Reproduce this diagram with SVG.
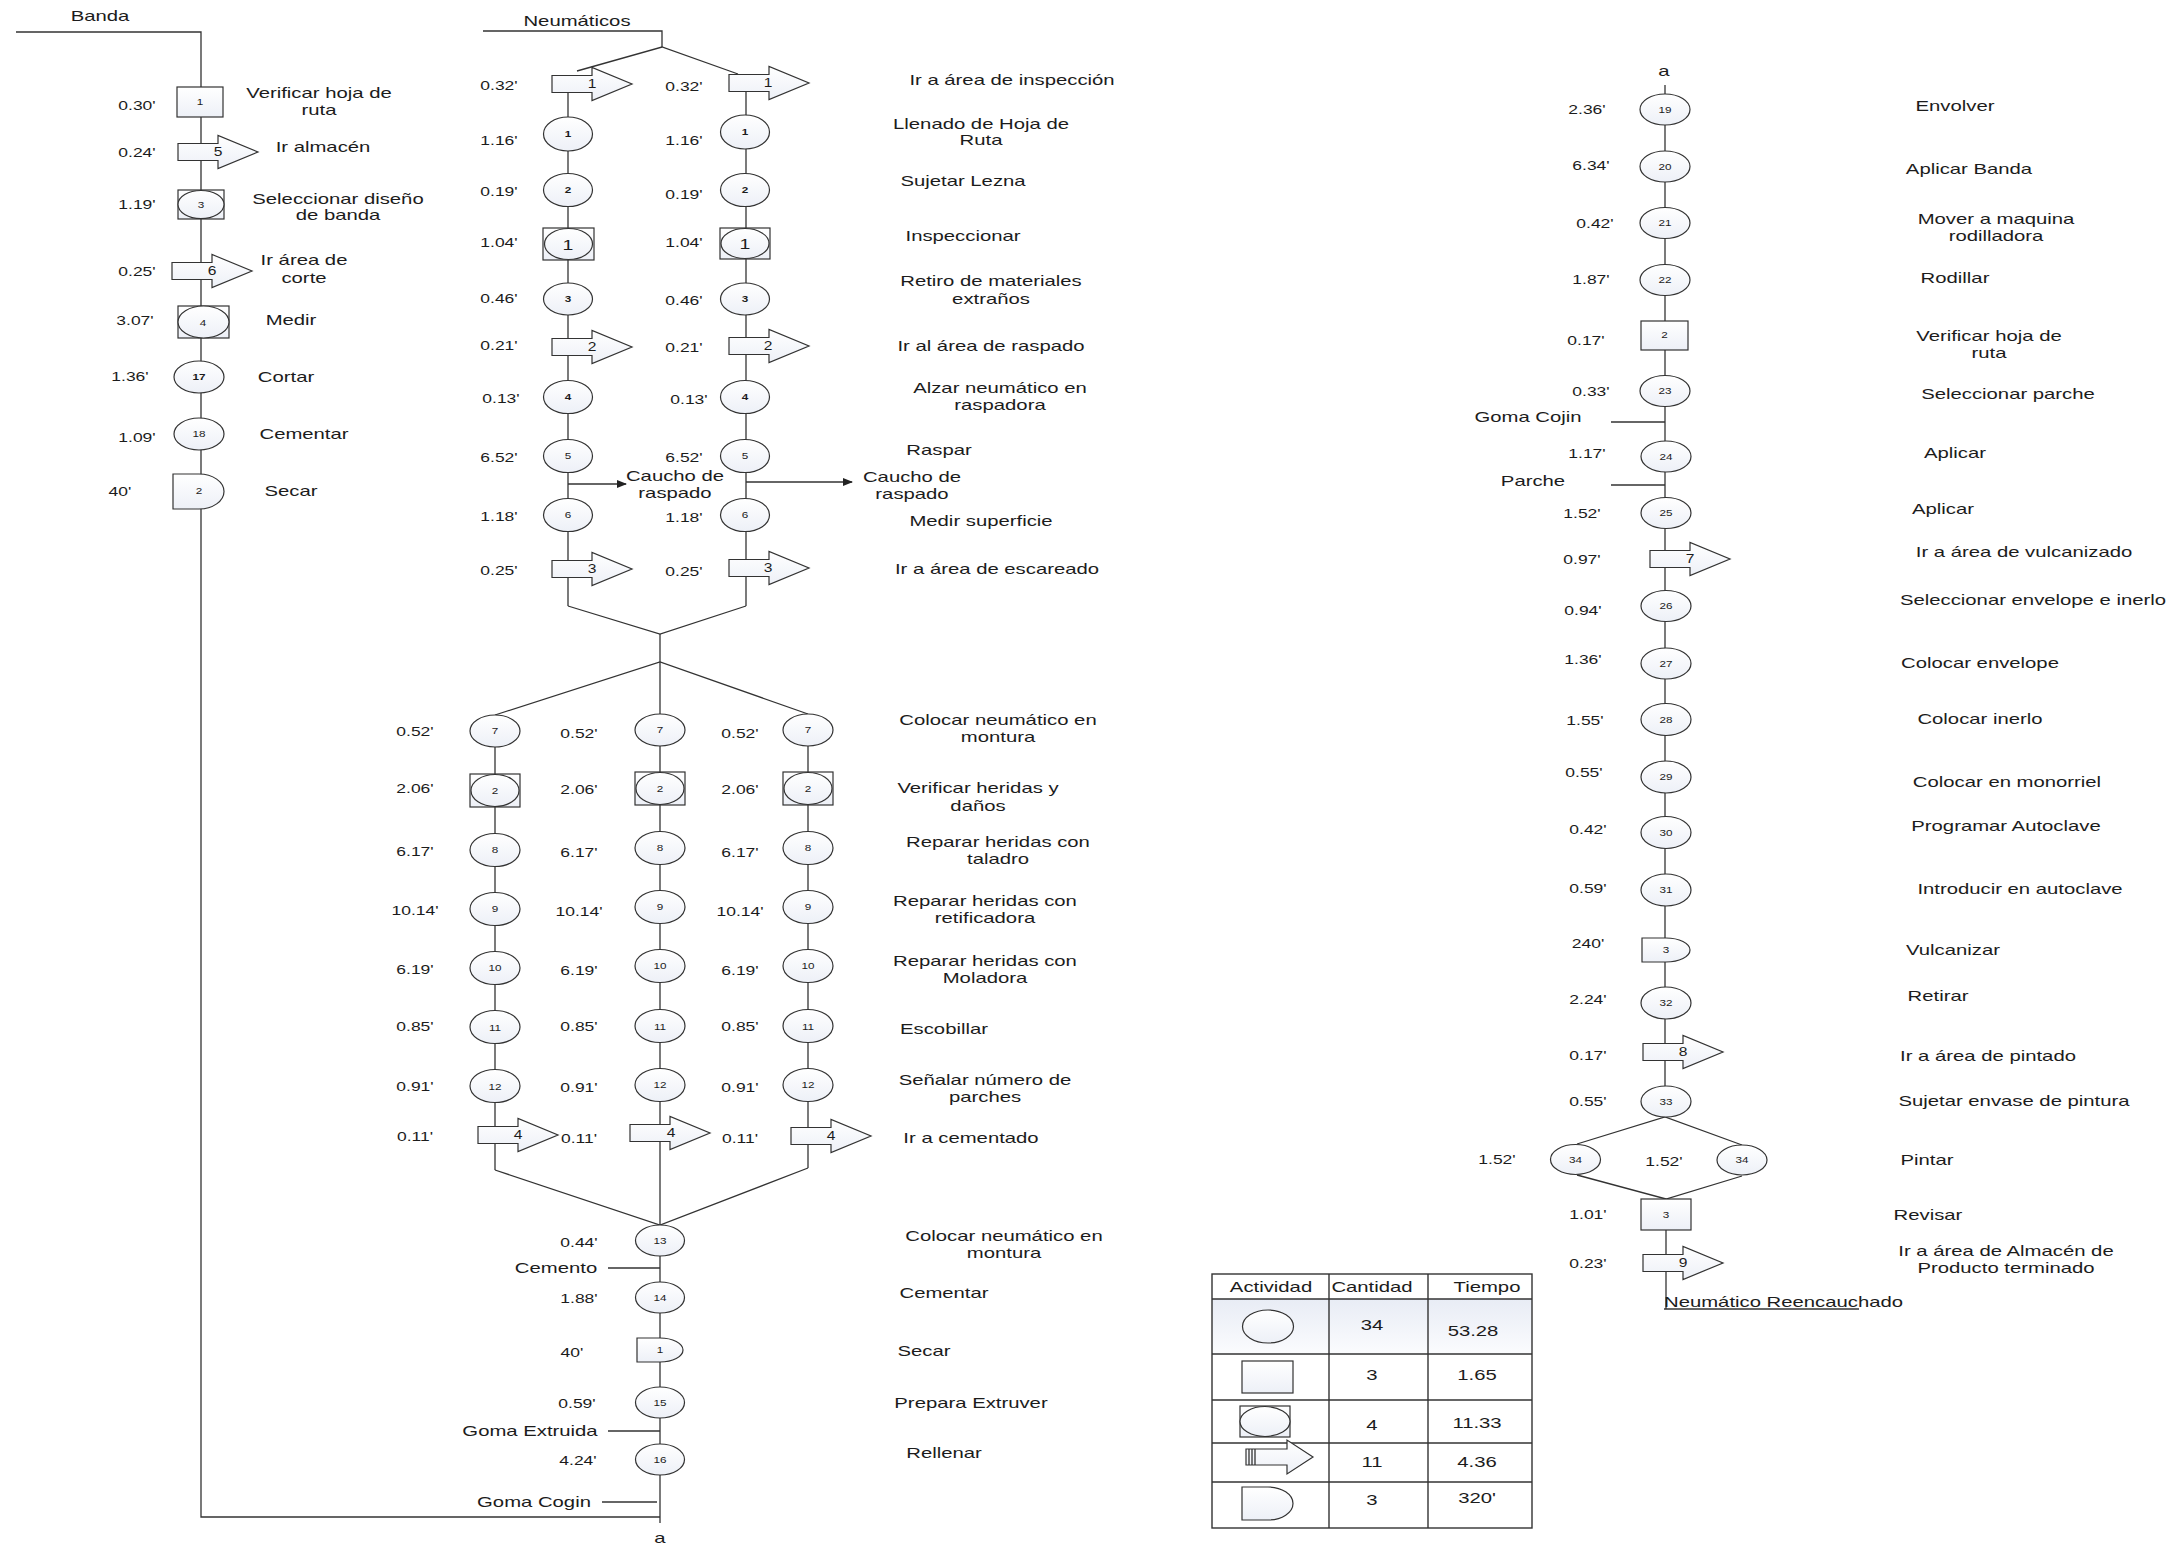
<svg xmlns="http://www.w3.org/2000/svg" width="2174" height="1544" viewBox="0 0 2174 1544">
<defs>
<linearGradient id="g" x1="0" y1="0" x2="0" y2="1"><stop offset="0" stop-color="#ffffff"/><stop offset="1" stop-color="#edf0f7"/></linearGradient>
<linearGradient id="rowg" x1="0" y1="0" x2="0" y2="1"><stop offset="0" stop-color="#e8ecf5"/><stop offset="1" stop-color="#fbfcfe"/></linearGradient>
<path id="ar" d="M0,-8.5H40V-16.5L80,0L40,16.5V8.5H0Z"/>
<marker id="mk" markerWidth="10" markerHeight="8" refX="9" refY="4" orient="auto" markerUnits="userSpaceOnUse"><path d="M0,0L10,4L0,8Z" fill="#222"/></marker>
<style>
.ln{stroke:#333;stroke-width:1.3;fill:none}
.nd{fill:url(#g);stroke:#333;stroke-width:1.2}
text{font-family:"Liberation Sans",Arial,sans-serif;fill:#1c1c1c;text-anchor:middle;dominant-baseline:central}
.lb{font-size:14.5px}
.tm{font-size:12.5px}
.nm{font-size:9px}
.an{font-size:12px}
.tb{stroke:#333;stroke-width:1.4;fill:none}
</style>
</defs>
<rect width="2174" height="1544" fill="#fff"/>

<g id="connectors" class="ln">
<polyline points="16,32 201,32 201,1517 660,1517"/>
<polyline points="483,31 662,31 662,47"/>
<polyline points="577,71 662,47 738,74"/>
<line x1="568" y1="84" x2="568" y2="606"/>
<line x1="746" y1="83" x2="746" y2="606"/>
<polyline points="568,606 660,634 746,606"/>
<line x1="660" y1="634" x2="660" y2="662"/>
<polyline points="495,715 660,662 808,714"/>
<line x1="660" y1="662" x2="660" y2="1523"/>
<line x1="495" y1="715" x2="495" y2="1170"/>
<line x1="808" y1="714" x2="808" y2="1168"/>
<polyline points="495,1170 660,1225 808,1168"/>
<line x1="568" y1="484" x2="626" y2="484" marker-end="url(#mk)"/>
<line x1="746" y1="482" x2="852" y2="482" marker-end="url(#mk)"/>
<line x1="608" y1="1268" x2="660" y2="1268"/>
<line x1="608" y1="1431" x2="660" y2="1431"/>
<line x1="602" y1="1502" x2="657" y2="1502"/>
<line x1="1665" y1="85" x2="1665" y2="1117"/>
<polyline points="1577,1144 1665,1117 1742,1145"/>
<polyline points="1577,1175 1666,1199 1742,1176"/>
<line x1="1666" y1="1199" x2="1666" y2="1309"/>
<line x1="1664" y1="1309" x2="1859" y2="1309"/>
<line x1="1611" y1="422" x2="1665" y2="422"/>
<line x1="1611" y1="485" x2="1665" y2="485"/>
</g>

<g id="headers">
<text class="lb" transform="matrix(1.4 0 0 1 100 16)">Banda</text>
<text class="lb" transform="matrix(1.4 0 0 1 577 21)">Neumáticos</text>
<text class="lb" transform="matrix(1.4 0 0 1 660 1538)">a</text>
<text class="lb" transform="matrix(1.4 0 0 1 1664 71)">a</text>
<text class="lb" style="text-anchor:start" transform="matrix(1.4 0 0 1 1664 1302)">Neumático Reencauchado</text>
<text class="lb" transform="matrix(1.4 0 0 1 675 476)"><tspan x="0">Caucho de</tspan><tspan x="0" dy="17">raspado</tspan></text>
<text class="lb" transform="matrix(1.4 0 0 1 912 477)"><tspan x="0">Caucho de</tspan><tspan x="0" dy="17">raspado</tspan></text>
<text class="lb" transform="matrix(1.4 0 0 1 556 1268)">Cemento</text>
<text class="lb" transform="matrix(1.4 0 0 1 530 1431)">Goma Extruida</text>
<text class="lb" transform="matrix(1.4 0 0 1 534 1502)">Goma Cogin</text>
<text class="lb" transform="matrix(1.4 0 0 1 1528 417)">Goma Cojin</text>
<text class="lb" transform="matrix(1.4 0 0 1 1533 481)">Parche</text>
</g>

<!-- Banda column -->
<g id="b1"><rect class="nd" x="177" y="87" width="46" height="30"/><text class="nm" transform="matrix(1.3 0 0 1 200 102)">1</text>
<text class="tm" transform="matrix(1.4 0 0 1 137 105)">0.30'</text>
<text class="lb" transform="matrix(1.4 0 0 1 319 93)"><tspan x="0">Verificar hoja de</tspan><tspan x="0" dy="17">ruta</tspan></text></g>
<g id="b5"><use href="#ar" class="nd" x="178" y="152"/><text class="an" transform="matrix(1.3 0 0 1 218 152)">5</text>
<text class="tm" transform="matrix(1.4 0 0 1 137 152)">0.24'</text>
<text class="lb" transform="matrix(1.4 0 0 1 323 147)">Ir almacén</text></g>
<g id="b3"><rect class="nd" x="178" y="190" width="46" height="29"/><ellipse class="nd" cx="201" cy="204.5" rx="23" ry="14"/><text class="nm" transform="matrix(1.3 0 0 1 201 205)">3</text>
<text class="tm" transform="matrix(1.4 0 0 1 137 204)">1.19'</text>
<text class="lb" transform="matrix(1.4 0 0 1 338 199)"><tspan x="0">Seleccionar diseño</tspan><tspan x="0" dy="16">de banda</tspan></text></g>
<g id="b6"><use href="#ar" class="nd" x="172" y="271"/><text class="an" transform="matrix(1.3 0 0 1 212 271)">6</text>
<text class="tm" transform="matrix(1.4 0 0 1 137 271)">0.25'</text>
<text class="lb" transform="matrix(1.4 0 0 1 304 260)"><tspan x="0">Ir área de</tspan><tspan x="0" dy="18">corte</tspan></text></g>
<g id="b4"><rect class="nd" x="178" y="306" width="51" height="32"/><ellipse class="nd" cx="203.5" cy="322" rx="25.5" ry="16"/><text class="nm" transform="matrix(1.3 0 0 1 203 323)">4</text>
<text class="tm" transform="matrix(1.4 0 0 1 135 320)">3.07'</text>
<text class="lb" transform="matrix(1.4 0 0 1 291 320)">Medir</text></g>
<g id="b17"><ellipse class="nd" cx="199" cy="377" rx="25" ry="16"/><text class="nm" style="font-weight:bold" transform="matrix(1.3 0 0 1 199 377)">17</text>
<text class="tm" transform="matrix(1.4 0 0 1 130 376)">1.36'</text>
<text class="lb" transform="matrix(1.4 0 0 1 286 377)">Cortar</text></g>
<g id="b18"><ellipse class="nd" cx="199" cy="434" rx="25" ry="16"/><text class="nm" transform="matrix(1.3 0 0 1 199 434)">18</text>
<text class="tm" transform="matrix(1.4 0 0 1 137 437)">1.09'</text>
<text class="lb" transform="matrix(1.4 0 0 1 304 434)">Cementar</text></g>
<g id="b2"><path class="nd" d="M173,474H199A25,17.5 0 0 1 199,509H173Z"/><text class="nm" transform="matrix(1.3 0 0 1 199 491)">2</text>
<text class="tm" transform="matrix(1.4 0 0 1 120 491)">40'</text>
<text class="lb" transform="matrix(1.4 0 0 1 291 491)">Secar</text></g>

<!-- middle top, two columns -->
<g id="m-a1">
<use href="#ar" class="nd" x="552" y="84"/><text class="an" transform="matrix(1.3 0 0 1 592 84)">1</text>
<use href="#ar" class="nd" x="729" y="83"/><text class="an" transform="matrix(1.3 0 0 1 768 83)">1</text>
<text class="tm" transform="matrix(1.4 0 0 1 499 85)">0.32'</text><text class="tm" transform="matrix(1.4 0 0 1 684 86)">0.32'</text>
<text class="lb" transform="matrix(1.4 0 0 1 1012 80)">Ir a área de inspección</text></g>
<g id="m-c1">
<ellipse class="nd" cx="568" cy="134" rx="24.5" ry="17"/><text class="nm" style="font-weight:bold" transform="matrix(1.3 0 0 1 568 134)">1</text>
<ellipse class="nd" cx="745" cy="132" rx="24.5" ry="17"/><text class="nm" style="font-weight:bold" transform="matrix(1.3 0 0 1 745 132)">1</text>
<text class="tm" transform="matrix(1.4 0 0 1 499 140)">1.16'</text><text class="tm" transform="matrix(1.4 0 0 1 684 140)">1.16'</text>
<text class="lb" transform="matrix(1.4 0 0 1 981 124)"><tspan x="0">Llenado de Hoja de</tspan><tspan x="0" dy="16">Ruta</tspan></text></g>
<g id="m-c2">
<ellipse class="nd" cx="568" cy="190" rx="24.5" ry="16.5"/><text class="nm" style="font-weight:bold" transform="matrix(1.3 0 0 1 568 190)">2</text>
<ellipse class="nd" cx="745" cy="190" rx="24.5" ry="16.5"/><text class="nm" style="font-weight:bold" transform="matrix(1.3 0 0 1 745 190)">2</text>
<text class="tm" transform="matrix(1.4 0 0 1 499 191)">0.19'</text><text class="tm" transform="matrix(1.4 0 0 1 684 194)">0.19'</text>
<text class="lb" transform="matrix(1.4 0 0 1 963 181)">Sujetar Lezna</text></g>
<g id="m-i1">
<rect class="nd" x="543" y="228" width="51" height="32"/><ellipse class="nd" cx="568.5" cy="244" rx="24" ry="15.5"/><text style="font-size:15px" transform="matrix(1.3 0 0 1 568 245)">1</text>
<rect class="nd" x="720" y="228" width="50" height="31"/><ellipse class="nd" cx="745" cy="243.5" rx="24" ry="15"/><text style="font-size:15px" transform="matrix(1.3 0 0 1 745 244)">1</text>
<text class="tm" transform="matrix(1.4 0 0 1 499 242)">1.04'</text><text class="tm" transform="matrix(1.4 0 0 1 684 242)">1.04'</text>
<text class="lb" transform="matrix(1.4 0 0 1 963 236)">Inspeccionar</text></g>
<g id="m-c3">
<ellipse class="nd" cx="568" cy="299" rx="24.5" ry="16"/><text class="nm" style="font-weight:bold" transform="matrix(1.3 0 0 1 568 299)">3</text>
<ellipse class="nd" cx="745" cy="299" rx="24.5" ry="16"/><text class="nm" style="font-weight:bold" transform="matrix(1.3 0 0 1 745 299)">3</text>
<text class="tm" transform="matrix(1.4 0 0 1 499 298)">0.46'</text><text class="tm" transform="matrix(1.4 0 0 1 684 300)">0.46'</text>
<text class="lb" transform="matrix(1.4 0 0 1 991 281)"><tspan x="0">Retiro de materiales</tspan><tspan x="0" dy="18">extraños</tspan></text></g>
<g id="m-a2">
<use href="#ar" class="nd" x="552" y="347"/><text class="an" transform="matrix(1.3 0 0 1 592 347)">2</text>
<use href="#ar" class="nd" x="729" y="346"/><text class="an" transform="matrix(1.3 0 0 1 768 346)">2</text>
<text class="tm" transform="matrix(1.4 0 0 1 499 345)">0.21'</text><text class="tm" transform="matrix(1.4 0 0 1 684 347)">0.21'</text>
<text class="lb" transform="matrix(1.4 0 0 1 991 346)">Ir al área de raspado</text></g>
<g id="m-c4">
<ellipse class="nd" cx="568" cy="397" rx="24.5" ry="16.5"/><text class="nm" style="font-weight:bold" transform="matrix(1.3 0 0 1 568 397)">4</text>
<ellipse class="nd" cx="745" cy="397" rx="24.5" ry="16.5"/><text class="nm" style="font-weight:bold" transform="matrix(1.3 0 0 1 745 397)">4</text>
<text class="tm" transform="matrix(1.4 0 0 1 501 398)">0.13'</text><text class="tm" transform="matrix(1.4 0 0 1 689 399)">0.13'</text>
<text class="lb" transform="matrix(1.4 0 0 1 1000 388)"><tspan x="0">Alzar neumático en</tspan><tspan x="0" dy="17">raspadora</tspan></text></g>
<g id="m-c5">
<ellipse class="nd" cx="568" cy="456" rx="24.5" ry="16.5"/><text class="nm" transform="matrix(1.3 0 0 1 568 456)">5</text>
<ellipse class="nd" cx="745" cy="456" rx="24.5" ry="16.5"/><text class="nm" transform="matrix(1.3 0 0 1 745 456)">5</text>
<text class="tm" transform="matrix(1.4 0 0 1 499 457)">6.52'</text><text class="tm" transform="matrix(1.4 0 0 1 684 457)">6.52'</text>
<text class="lb" transform="matrix(1.4 0 0 1 939 450)">Raspar</text></g>
<g id="m-c6">
<ellipse class="nd" cx="568" cy="515" rx="24.5" ry="16.5"/><text class="nm" transform="matrix(1.3 0 0 1 568 515)">6</text>
<ellipse class="nd" cx="745" cy="515" rx="24.5" ry="16.5"/><text class="nm" transform="matrix(1.3 0 0 1 745 515)">6</text>
<text class="tm" transform="matrix(1.4 0 0 1 499 516)">1.18'</text><text class="tm" transform="matrix(1.4 0 0 1 684 517)">1.18'</text>
<text class="lb" transform="matrix(1.4 0 0 1 981 521)">Medir superficie</text></g>
<g id="m-a3">
<use href="#ar" class="nd" x="552" y="569"/><text class="an" transform="matrix(1.3 0 0 1 592 569)">3</text>
<use href="#ar" class="nd" x="729" y="568"/><text class="an" transform="matrix(1.3 0 0 1 768 568)">3</text>
<text class="tm" transform="matrix(1.4 0 0 1 499 570)">0.25'</text><text class="tm" transform="matrix(1.4 0 0 1 684 571)">0.25'</text>
<text class="lb" transform="matrix(1.4 0 0 1 997 569)">Ir a área de escareado</text></g>

<!-- middle lower, three columns -->
<g id="m-c7">
<ellipse class="nd" cx="495" cy="731" rx="25" ry="16"/><text class="nm" transform="matrix(1.3 0 0 1 495 731)">7</text>
<ellipse class="nd" cx="660" cy="730" rx="25" ry="16"/><text class="nm" transform="matrix(1.3 0 0 1 660 730)">7</text>
<ellipse class="nd" cx="808" cy="730" rx="25" ry="16"/><text class="nm" transform="matrix(1.3 0 0 1 808 730)">7</text>
<text class="tm" transform="matrix(1.4 0 0 1 415 731)">0.52'</text><text class="tm" transform="matrix(1.4 0 0 1 579 733)">0.52'</text><text class="tm" transform="matrix(1.4 0 0 1 740 733)">0.52'</text>
<text class="lb" transform="matrix(1.4 0 0 1 998 720)"><tspan x="0">Colocar neumático en</tspan><tspan x="0" dy="17">montura</tspan></text></g>
<g id="m-i2">
<rect class="nd" x="470" y="774" width="50" height="33"/><ellipse class="nd" cx="495" cy="790.5" rx="24" ry="16"/><text class="nm" transform="matrix(1.3 0 0 1 495 791)">2</text>
<rect class="nd" x="635" y="772" width="50" height="33"/><ellipse class="nd" cx="660" cy="788.5" rx="24" ry="16"/><text class="nm" transform="matrix(1.3 0 0 1 660 789)">2</text>
<rect class="nd" x="783" y="772" width="50" height="33"/><ellipse class="nd" cx="808" cy="788.5" rx="24" ry="16"/><text class="nm" transform="matrix(1.3 0 0 1 808 789)">2</text>
<text class="tm" transform="matrix(1.4 0 0 1 415 788)">2.06'</text><text class="tm" transform="matrix(1.4 0 0 1 579 789)">2.06'</text><text class="tm" transform="matrix(1.4 0 0 1 740 789)">2.06'</text>
<text class="lb" transform="matrix(1.4 0 0 1 978 788)"><tspan x="0">Verificar heridas y</tspan><tspan x="0" dy="18">daños</tspan></text></g>
<g id="m-c8">
<ellipse class="nd" cx="495" cy="850" rx="25" ry="16.5"/><text class="nm" transform="matrix(1.3 0 0 1 495 850)">8</text>
<ellipse class="nd" cx="660" cy="848" rx="25" ry="16.5"/><text class="nm" transform="matrix(1.3 0 0 1 660 848)">8</text>
<ellipse class="nd" cx="808" cy="848" rx="25" ry="16.5"/><text class="nm" transform="matrix(1.3 0 0 1 808 848)">8</text>
<text class="tm" transform="matrix(1.4 0 0 1 415 851)">6.17'</text><text class="tm" transform="matrix(1.4 0 0 1 579 852)">6.17'</text><text class="tm" transform="matrix(1.4 0 0 1 740 852)">6.17'</text>
<text class="lb" transform="matrix(1.4 0 0 1 998 842)"><tspan x="0">Reparar heridas con</tspan><tspan x="0" dy="17">taladro</tspan></text></g>
<g id="m-c9">
<ellipse class="nd" cx="495" cy="909" rx="25" ry="16.5"/><text class="nm" transform="matrix(1.3 0 0 1 495 909)">9</text>
<ellipse class="nd" cx="660" cy="907" rx="25" ry="16.5"/><text class="nm" transform="matrix(1.3 0 0 1 660 907)">9</text>
<ellipse class="nd" cx="808" cy="907" rx="25" ry="16.5"/><text class="nm" transform="matrix(1.3 0 0 1 808 907)">9</text>
<text class="tm" transform="matrix(1.4 0 0 1 415 910)">10.14'</text><text class="tm" transform="matrix(1.4 0 0 1 579 911)">10.14'</text><text class="tm" transform="matrix(1.4 0 0 1 740 911)">10.14'</text>
<text class="lb" transform="matrix(1.4 0 0 1 985 901)"><tspan x="0">Reparar heridas con</tspan><tspan x="0" dy="17">retificadora</tspan></text></g>
<g id="m-c10">
<ellipse class="nd" cx="495" cy="968" rx="25" ry="16.5"/><text class="nm" transform="matrix(1.3 0 0 1 495 968)">10</text>
<ellipse class="nd" cx="660" cy="966" rx="25" ry="16.5"/><text class="nm" transform="matrix(1.3 0 0 1 660 966)">10</text>
<ellipse class="nd" cx="808" cy="966" rx="25" ry="16.5"/><text class="nm" transform="matrix(1.3 0 0 1 808 966)">10</text>
<text class="tm" transform="matrix(1.4 0 0 1 415 969)">6.19'</text><text class="tm" transform="matrix(1.4 0 0 1 579 970)">6.19'</text><text class="tm" transform="matrix(1.4 0 0 1 740 970)">6.19'</text>
<text class="lb" transform="matrix(1.4 0 0 1 985 961)"><tspan x="0">Reparar heridas con</tspan><tspan x="0" dy="17">Moladora</tspan></text></g>
<g id="m-c11">
<ellipse class="nd" cx="495" cy="1027" rx="25" ry="16.5"/><text class="nm" transform="matrix(1.3 0 0 1 495 1028)">11</text>
<ellipse class="nd" cx="660" cy="1026" rx="25" ry="16.5"/><text class="nm" transform="matrix(1.3 0 0 1 660 1027)">11</text>
<ellipse class="nd" cx="808" cy="1026" rx="25" ry="16.5"/><text class="nm" transform="matrix(1.3 0 0 1 808 1027)">11</text>
<text class="tm" transform="matrix(1.4 0 0 1 415 1026)">0.85'</text><text class="tm" transform="matrix(1.4 0 0 1 579 1026)">0.85'</text><text class="tm" transform="matrix(1.4 0 0 1 740 1026)">0.85'</text>
<text class="lb" transform="matrix(1.4 0 0 1 944 1029)">Escobillar</text></g>
<g id="m-c12">
<ellipse class="nd" cx="495" cy="1086" rx="25" ry="16.5"/><text class="nm" transform="matrix(1.3 0 0 1 495 1087)">12</text>
<ellipse class="nd" cx="660" cy="1085" rx="25" ry="16.5"/><text class="nm" transform="matrix(1.3 0 0 1 660 1085)">12</text>
<ellipse class="nd" cx="808" cy="1085" rx="25" ry="16.5"/><text class="nm" transform="matrix(1.3 0 0 1 808 1085)">12</text>
<text class="tm" transform="matrix(1.4 0 0 1 415 1086)">0.91'</text><text class="tm" transform="matrix(1.4 0 0 1 579 1087)">0.91'</text><text class="tm" transform="matrix(1.4 0 0 1 740 1087)">0.91'</text>
<text class="lb" transform="matrix(1.4 0 0 1 985 1080)"><tspan x="0">Señalar número de</tspan><tspan x="0" dy="17">parches</tspan></text></g>
<g id="m-a4">
<use href="#ar" class="nd" x="478" y="1135"/><text class="an" transform="matrix(1.3 0 0 1 518 1135)">4</text>
<use href="#ar" class="nd" x="630" y="1133"/><text class="an" transform="matrix(1.3 0 0 1 671 1133)">4</text>
<use href="#ar" class="nd" x="791" y="1136"/><text class="an" transform="matrix(1.3 0 0 1 831 1136)">4</text>
<text class="tm" transform="matrix(1.4 0 0 1 415 1136)">0.11'</text><text class="tm" transform="matrix(1.4 0 0 1 579 1138)">0.11'</text><text class="tm" transform="matrix(1.4 0 0 1 740 1138)">0.11'</text>
<text class="lb" transform="matrix(1.4 0 0 1 971 1138)">Ir a cementado</text></g>

<!-- middle bottom -->
<g id="m-c13"><ellipse class="nd" cx="660" cy="1240.5" rx="24.5" ry="15.5"/><text class="nm" transform="matrix(1.3 0 0 1 660 1241)">13</text>
<text class="tm" transform="matrix(1.4 0 0 1 579 1242)">0.44'</text>
<text class="lb" transform="matrix(1.4 0 0 1 1004 1236)"><tspan x="0">Colocar neumático en</tspan><tspan x="0" dy="17">montura</tspan></text></g>
<g id="m-c14"><ellipse class="nd" cx="660" cy="1297.5" rx="24.5" ry="15.5"/><text class="nm" transform="matrix(1.3 0 0 1 660 1298)">14</text>
<text class="tm" transform="matrix(1.4 0 0 1 579 1298)">1.88'</text>
<text class="lb" transform="matrix(1.4 0 0 1 944 1293)">Cementar</text></g>
<g id="m-d1"><path class="nd" d="M637,1338H660A23,12 0 0 1 660,1362H637Z"/><text class="nm" transform="matrix(1.3 0 0 1 660 1350)">1</text>
<text class="tm" transform="matrix(1.4 0 0 1 572 1352)">40'</text>
<text class="lb" transform="matrix(1.4 0 0 1 924 1351)">Secar</text></g>
<g id="m-c15"><ellipse class="nd" cx="660" cy="1402.5" rx="24.5" ry="15.5"/><text class="nm" transform="matrix(1.3 0 0 1 660 1403)">15</text>
<text class="tm" transform="matrix(1.4 0 0 1 577 1403)">0.59'</text>
<text class="lb" transform="matrix(1.4 0 0 1 971 1403)">Prepara Extruver</text></g>
<g id="m-c16"><ellipse class="nd" cx="660" cy="1459.5" rx="24.5" ry="15.5"/><text class="nm" transform="matrix(1.3 0 0 1 660 1460)">16</text>
<text class="tm" transform="matrix(1.4 0 0 1 578 1460)">4.24'</text>
<text class="lb" transform="matrix(1.4 0 0 1 944 1453)">Rellenar</text></g>

<!-- right column -->
<g id="r-c19"><ellipse class="nd" cx="1665" cy="109.5" rx="25" ry="15.5"/><text class="nm" transform="matrix(1.3 0 0 1 1665 110)">19</text>
<text class="tm" transform="matrix(1.4 0 0 1 1587 109)">2.36'</text>
<text class="lb" transform="matrix(1.4 0 0 1 1955 106)">Envolver</text></g>
<g id="r-c20"><ellipse class="nd" cx="1665" cy="166.5" rx="25" ry="15.5"/><text class="nm" transform="matrix(1.3 0 0 1 1665 167)">20</text>
<text class="tm" transform="matrix(1.4 0 0 1 1591 165)">6.34'</text>
<text class="lb" transform="matrix(1.4 0 0 1 1969 169)">Aplicar Banda</text></g>
<g id="r-c21"><ellipse class="nd" cx="1665" cy="223" rx="25" ry="15.5"/><text class="nm" transform="matrix(1.3 0 0 1 1665 223)">21</text>
<text class="tm" transform="matrix(1.4 0 0 1 1595 223)">0.42'</text>
<text class="lb" transform="matrix(1.4 0 0 1 1996 219)"><tspan x="0">Mover a maquina</tspan><tspan x="0" dy="17">rodilladora</tspan></text></g>
<g id="r-c22"><ellipse class="nd" cx="1665" cy="280" rx="25" ry="15.5"/><text class="nm" transform="matrix(1.3 0 0 1 1665 280)">22</text>
<text class="tm" transform="matrix(1.4 0 0 1 1591 279)">1.87'</text>
<text class="lb" transform="matrix(1.4 0 0 1 1955 278)">Rodillar</text></g>
<g id="r-s2"><rect class="nd" x="1641" y="321" width="47" height="29"/><text class="nm" transform="matrix(1.3 0 0 1 1664.5 335)">2</text>
<text class="tm" transform="matrix(1.4 0 0 1 1586 340)">0.17'</text>
<text class="lb" transform="matrix(1.4 0 0 1 1989 336)"><tspan x="0">Verificar hoja de</tspan><tspan x="0" dy="17">ruta</tspan></text></g>
<g id="r-c23"><ellipse class="nd" cx="1665" cy="391" rx="25" ry="15.5"/><text class="nm" transform="matrix(1.3 0 0 1 1665 391)">23</text>
<text class="tm" transform="matrix(1.4 0 0 1 1591 391)">0.33'</text>
<text class="lb" transform="matrix(1.4 0 0 1 2008 394)">Seleccionar parche</text></g>
<g id="r-c24"><ellipse class="nd" cx="1666" cy="456.5" rx="25" ry="15.5"/><text class="nm" transform="matrix(1.3 0 0 1 1666 457)">24</text>
<text class="tm" transform="matrix(1.4 0 0 1 1587 453)">1.17'</text>
<text class="lb" transform="matrix(1.4 0 0 1 1955 453)">Aplicar</text></g>
<g id="r-c25"><ellipse class="nd" cx="1666" cy="513" rx="25" ry="15.5"/><text class="nm" transform="matrix(1.3 0 0 1 1666 513)">25</text>
<text class="tm" transform="matrix(1.4 0 0 1 1582 513)">1.52'</text>
<text class="lb" transform="matrix(1.4 0 0 1 1943 509)">Aplicar</text></g>
<g id="r-a7"><use href="#ar" class="nd" x="1650" y="559"/><text class="an" transform="matrix(1.3 0 0 1 1690 559)">7</text>
<text class="tm" transform="matrix(1.4 0 0 1 1582 559)">0.97'</text>
<text class="lb" transform="matrix(1.4 0 0 1 2024 552)">Ir a área de vulcanizado</text></g>
<g id="r-c26"><ellipse class="nd" cx="1666" cy="606" rx="25" ry="15.5"/><text class="nm" transform="matrix(1.3 0 0 1 1666 606)">26</text>
<text class="tm" transform="matrix(1.4 0 0 1 1583 610)">0.94'</text>
<text class="lb" transform="matrix(1.4 0 0 1 2033 600)">Seleccionar envelope e inerlo</text></g>
<g id="r-c27"><ellipse class="nd" cx="1666" cy="663.5" rx="25" ry="15.5"/><text class="nm" transform="matrix(1.3 0 0 1 1666 664)">27</text>
<text class="tm" transform="matrix(1.4 0 0 1 1583 659)">1.36'</text>
<text class="lb" transform="matrix(1.4 0 0 1 1980 663)">Colocar envelope</text></g>
<g id="r-c28"><ellipse class="nd" cx="1666" cy="719.5" rx="25" ry="16"/><text class="nm" transform="matrix(1.3 0 0 1 1666 720)">28</text>
<text class="tm" transform="matrix(1.4 0 0 1 1585 720)">1.55'</text>
<text class="lb" transform="matrix(1.4 0 0 1 1980 719)">Colocar inerlo</text></g>
<g id="r-c29"><ellipse class="nd" cx="1666" cy="777" rx="25" ry="16"/><text class="nm" transform="matrix(1.3 0 0 1 1666 777)">29</text>
<text class="tm" transform="matrix(1.4 0 0 1 1584 772)">0.55'</text>
<text class="lb" transform="matrix(1.4 0 0 1 2007 782)">Colocar en monorriel</text></g>
<g id="r-c30"><ellipse class="nd" cx="1666" cy="832.5" rx="25" ry="16"/><text class="nm" transform="matrix(1.3 0 0 1 1666 833)">30</text>
<text class="tm" transform="matrix(1.4 0 0 1 1588 829)">0.42'</text>
<text class="lb" transform="matrix(1.4 0 0 1 2006 826)">Programar Autoclave</text></g>
<g id="r-c31"><ellipse class="nd" cx="1666" cy="890" rx="25" ry="16"/><text class="nm" transform="matrix(1.3 0 0 1 1666 890)">31</text>
<text class="tm" transform="matrix(1.4 0 0 1 1588 888)">0.59'</text>
<text class="lb" transform="matrix(1.4 0 0 1 2020 889)">Introducir en autoclave</text></g>
<g id="r-d3"><path class="nd" d="M1642,938H1666A24,12 0 0 1 1666,962H1642Z"/><text class="nm" transform="matrix(1.3 0 0 1 1666 950)">3</text>
<text class="tm" transform="matrix(1.4 0 0 1 1588 943)">240'</text>
<text class="lb" transform="matrix(1.4 0 0 1 1953 950)">Vulcanizar</text></g>
<g id="r-c32"><ellipse class="nd" cx="1666" cy="1003" rx="25" ry="16"/><text class="nm" transform="matrix(1.3 0 0 1 1666 1003)">32</text>
<text class="tm" transform="matrix(1.4 0 0 1 1588 999)">2.24'</text>
<text class="lb" transform="matrix(1.4 0 0 1 1938 996)">Retirar</text></g>
<g id="r-a8"><use href="#ar" class="nd" x="1643" y="1052"/><text class="an" transform="matrix(1.3 0 0 1 1683 1052)">8</text>
<text class="tm" transform="matrix(1.4 0 0 1 1588 1055)">0.17'</text>
<text class="lb" transform="matrix(1.4 0 0 1 1988 1056)">Ir a área de pintado</text></g>
<g id="r-c33"><ellipse class="nd" cx="1666" cy="1101.5" rx="25" ry="15.5"/><text class="nm" transform="matrix(1.3 0 0 1 1666 1102)">33</text>
<text class="tm" transform="matrix(1.4 0 0 1 1588 1101)">0.55'</text>
<text class="lb" transform="matrix(1.4 0 0 1 2014 1101)">Sujetar envase de pintura</text></g>
<g id="r-c34">
<ellipse class="nd" cx="1575.5" cy="1159.5" rx="25" ry="15"/><text class="nm" transform="matrix(1.3 0 0 1 1575.5 1160)">34</text>
<ellipse class="nd" cx="1742" cy="1160" rx="25" ry="15"/><text class="nm" transform="matrix(1.3 0 0 1 1742 1160)">34</text>
<text class="tm" transform="matrix(1.4 0 0 1 1497 1159)">1.52'</text><text class="tm" transform="matrix(1.4 0 0 1 1664 1161)">1.52'</text>
<text class="lb" transform="matrix(1.4 0 0 1 1927 1160)">Pintar</text></g>
<g id="r-s3"><rect class="nd" x="1641" y="1199" width="50" height="31"/><text class="nm" transform="matrix(1.3 0 0 1 1666 1215)">3</text>
<text class="tm" transform="matrix(1.4 0 0 1 1588 1214)">1.01'</text>
<text class="lb" transform="matrix(1.4 0 0 1 1928 1215)">Revisar</text></g>
<g id="r-a9"><use href="#ar" class="nd" x="1643" y="1263"/><text class="an" transform="matrix(1.3 0 0 1 1683 1263)">9</text>
<text class="tm" transform="matrix(1.4 0 0 1 1588 1263)">0.23'</text>
<text class="lb" transform="matrix(1.4 0 0 1 2006 1251)"><tspan x="0">Ir a área de Almacén de</tspan><tspan x="0" dy="17">Producto terminado</tspan></text></g>

<!-- summary table -->
<g id="table">
<rect x="1212" y="1299" width="320" height="55" fill="url(#rowg)"/>
<rect class="tb" x="1212" y="1274" width="320" height="254"/>
<line class="tb" x1="1329" y1="1274" x2="1329" y2="1528"/>
<line class="tb" x1="1428" y1="1274" x2="1428" y2="1528"/>
<line class="tb" x1="1212" y1="1299" x2="1532" y2="1299"/>
<line class="tb" x1="1212" y1="1354" x2="1532" y2="1354"/>
<line class="tb" x1="1212" y1="1400" x2="1532" y2="1400"/>
<line class="tb" x1="1212" y1="1443" x2="1532" y2="1443"/>
<line class="tb" x1="1212" y1="1482" x2="1532" y2="1482"/>
<text class="lb" transform="matrix(1.4 0 0 1 1271 1287)">Actividad</text>
<text class="lb" transform="matrix(1.4 0 0 1 1372 1287)">Cantidad</text>
<text class="lb" transform="matrix(1.4 0 0 1 1487 1287)">Tiempo</text>
<ellipse class="nd" cx="1268" cy="1326.5" rx="25.5" ry="16.5"/>
<text class="lb" transform="matrix(1.4 0 0 1 1372 1325)">34</text>
<text class="lb" transform="matrix(1.4 0 0 1 1473 1331)">53.28</text>
<rect class="nd" x="1242" y="1361" width="51" height="32"/>
<text class="lb" transform="matrix(1.4 0 0 1 1372 1375)">3</text>
<text class="lb" transform="matrix(1.4 0 0 1 1477 1375)">1.65</text>
<rect class="nd" x="1240" y="1406" width="50" height="31"/><ellipse class="nd" cx="1265" cy="1421.5" rx="25" ry="15"/>
<text class="lb" transform="matrix(1.4 0 0 1 1372 1425)">4</text>
<text class="lb" transform="matrix(1.4 0 0 1 1477 1423)">11.33</text>
<path class="nd" d="M1246,1449H1287V1440L1313,1457L1287,1474V1465H1246Z"/>
<path class="ln" d="M1249,1449V1465M1252,1449V1465M1255,1449V1465"/>
<text class="lb" transform="matrix(1.4 0 0 1 1372 1462)">11</text>
<text class="lb" transform="matrix(1.4 0 0 1 1477 1462)">4.36</text>
<path class="nd" d="M1242,1487H1268A25,16.5 0 0 1 1268,1520H1242Z"/>
<text class="lb" transform="matrix(1.4 0 0 1 1372 1500)">3</text>
<text class="lb" transform="matrix(1.4 0 0 1 1477 1498)">320'</text>
</g>
</svg>
